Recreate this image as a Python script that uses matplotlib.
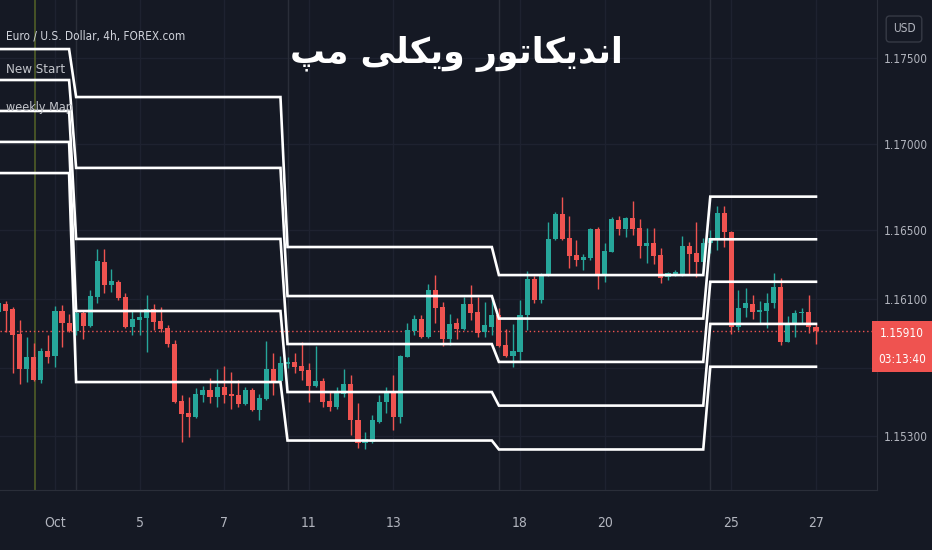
import numpy as np
import matplotlib
matplotlib.use("Agg")
import matplotlib.pyplot as plt

# ---------------- data ----------------
first_index = -2  # 4h candle index; index 0 = first bar of Sep 30
opens = [1.16025, 1.16070, 1.16039, 1.15894, 1.15690, 1.15763, 1.15628, 1.15795, 1.15767, 1.16029,
         1.15961, 1.15915, 1.16019, 1.15942, 1.16112, 1.16316, 1.16180, 1.16199, 1.16109, 1.15934,
         1.15977, 1.15987, 1.16041, 1.15971, 1.15929, 1.15837, 1.15506, 1.15434, 1.15411, 1.15538,
         1.15567, 1.15531, 1.15589, 1.15547, 1.15539, 1.15488, 1.15570, 1.15456, 1.15516, 1.15690,
         1.15624, 1.15721, 1.15734, 1.15709, 1.15686, 1.15593, 1.15624, 1.15508, 1.15473, 1.15547,
         1.15605, 1.15395, 1.15259, 1.15269, 1.15386, 1.15502, 1.15551, 1.15411, 1.15760, 1.15915,
         1.15981, 1.15880, 1.16151, 1.16054, 1.15865, 1.15958, 1.15923, 1.16070, 1.16025, 1.15907,
         1.15938, 1.16006, 1.15831, 1.15770, 1.15792, 1.16003, 1.16213, 1.16091, 1.16238, 1.16446,
         1.16595, 1.16452, 1.16355, 1.16326, 1.16335, 1.16504, 1.16244, 1.16374, 1.16558, 1.16504,
         1.16568, 1.16510, 1.16407, 1.16426, 1.16355, 1.16225, 1.16238, 1.16238, 1.16407, 1.16368,
         1.16316, 1.16422, 1.16455, 1.16597, 1.16490, 1.15936, 1.16045, 1.16070, 1.16023, 1.16031,
         1.16077, 1.16170, 1.15851, 1.15948, 1.16016, 1.16023, 1.15938]
highs = [1.16087, 1.16089, 1.16054, 1.15977, 1.15880, 1.15841, 1.15812, 1.15890, 1.16058, 1.16064,
         1.16012, 1.16045, 1.16035, 1.16151, 1.16388, 1.16388, 1.16272, 1.16209, 1.16132, 1.16035,
         1.16035, 1.16122, 1.16070, 1.16052, 1.15948, 1.15861, 1.15541, 1.15531, 1.15580, 1.15593,
         1.15640, 1.15690, 1.15709, 1.15673, 1.15628, 1.15589, 1.15581, 1.15547, 1.15852, 1.15783,
         1.15770, 1.15763, 1.15783, 1.15851, 1.15729, 1.15826, 1.15640, 1.15560, 1.15589, 1.15690,
         1.15657, 1.15492, 1.15327, 1.15424, 1.15541, 1.15589, 1.15657, 1.15773, 1.15961, 1.16006,
         1.16006, 1.16186, 1.16238, 1.16083, 1.16012, 1.15987, 1.16112, 1.16180, 1.16112, 1.16081,
         1.16097, 1.16045, 1.15924, 1.15954, 1.16093, 1.16259, 1.16233, 1.16248, 1.16544, 1.16606,
         1.16692, 1.16581, 1.16440, 1.16360, 1.16509, 1.16520, 1.16426, 1.16574, 1.16581, 1.16578,
         1.16670, 1.16562, 1.16510, 1.16510, 1.16394, 1.16258, 1.16267, 1.16465, 1.16432, 1.16548,
         1.16452, 1.16500, 1.16642, 1.16642, 1.16497, 1.16151, 1.16161, 1.16122, 1.16089, 1.16132,
         1.16248, 1.16219, 1.16000, 1.16035, 1.16045, 1.16122, 1.15954]
lows = [1.16017, 1.15909, 1.15667, 1.15605, 1.15618, 1.15624, 1.15612, 1.15729, 1.15705, 1.15822,
        1.15909, 1.15890, 1.15865, 1.15938, 1.16074, 1.16132, 1.16141, 1.16093, 1.15929, 1.15890,
        1.15890, 1.15792, 1.15919, 1.15909, 1.15820, 1.15492, 1.15269, 1.15298, 1.15405, 1.15502,
        1.15494, 1.15473, 1.15492, 1.15462, 1.15473, 1.15483, 1.15449, 1.15394, 1.15512, 1.15541,
        1.15618, 1.15696, 1.15667, 1.15628, 1.15502, 1.15589, 1.15473, 1.15449, 1.15458, 1.15531,
        1.15308, 1.15231, 1.15227, 1.15260, 1.15376, 1.15434, 1.15337, 1.15380, 1.15760, 1.15890,
        1.15870, 1.15870, 1.15961, 1.15826, 1.15831, 1.15865, 1.15919, 1.15977, 1.15880, 1.15880,
        1.15890, 1.15822, 1.15763, 1.15705, 1.15744, 1.15916, 1.16074, 1.16074, 1.16233, 1.16442,
        1.16442, 1.16279, 1.16291, 1.16266, 1.16328, 1.16155, 1.16199, 1.16372, 1.16471, 1.16461,
        1.16471, 1.16335, 1.16306, 1.16302, 1.16190, 1.16209, 1.16233, 1.16233, 1.16238, 1.16227,
        1.16248, 1.16366, 1.16384, 1.16401, 1.15895, 1.15919, 1.15996, 1.15981, 1.15958, 1.15929,
        1.16045, 1.15831, 1.15849, 1.15880, 1.15958, 1.15899, 1.15837]
closes = [1.16077, 1.16031, 1.15890, 1.15690, 1.15763, 1.15628, 1.15798, 1.15763, 1.16029, 1.15958,
          1.15915, 1.16016, 1.15942, 1.16116, 1.16320, 1.16180, 1.16204, 1.16103, 1.15934, 1.15981,
          1.15992, 1.16041, 1.15967, 1.15923, 1.15837, 1.15498, 1.15430, 1.15411, 1.15547, 1.15570,
          1.15531, 1.15589, 1.15539, 1.15535, 1.15488, 1.15570, 1.15456, 1.15522, 1.15690, 1.15624,
          1.15729, 1.15734, 1.15705, 1.15682, 1.15593, 1.15624, 1.15498, 1.15473, 1.15560, 1.15605,
          1.15395, 1.15260, 1.15283, 1.15395, 1.15502, 1.15551, 1.15411, 1.15767, 1.15919, 1.15981,
          1.15880, 1.16151, 1.16045, 1.15865, 1.15954, 1.15923, 1.16070, 1.16019, 1.15903, 1.15945,
          1.16006, 1.15826, 1.15767, 1.15797, 1.16006, 1.16213, 1.16093, 1.16238, 1.16446, 1.16595,
          1.16446, 1.16349, 1.16326, 1.16341, 1.16504, 1.16244, 1.16380, 1.16562, 1.16504, 1.16568,
          1.16504, 1.16407, 1.16426, 1.16349, 1.16219, 1.16248, 1.16258, 1.16407, 1.16363, 1.16316,
          1.16424, 1.16455, 1.16597, 1.16488, 1.15936, 1.16045, 1.16074, 1.16025, 1.16035, 1.16077,
          1.16170, 1.15851, 1.15948, 1.16016, 1.16023, 1.15938, 1.15910]

# weekly map levels (5 per week) and the candle index where each week starts
week_start_index = [-2, 9, 39, 69, 99]
week_levels = [
    [1.17552, 1.17372, 1.17192, 1.17012, 1.16831],
    [1.17273, 1.16861, 1.16448, 1.16029, 1.15616],
    [1.16401, 1.16116, 1.15837, 1.15558, 1.15276],
    [1.16238, 1.15985, 1.15733, 1.15479, 1.15224],
    [1.16694, 1.16446, 1.16199, 1.15954, 1.15705],
]
session_marker_index = 3.1

day_tick_index = [6, 18, 30, 42, 54, 72, 84, 102, 114]
day_tick_labels = ["Oct", "5", "7", "11", "13", "18", "20", "25", "27"]
price_ticks = [1.15300, 1.16100, 1.16500, 1.17000, 1.17500]
grid_prices = [1.15300, 1.15700, 1.16100, 1.16500, 1.17000, 1.17500]
last_price = 1.15910
countdown = "03:13:40"
symbol_title = "Euro / U.S. Dollar, 4h, FOREX.com"
indicator_names = ["New Start", "weekly Map"]
currency = "USD"
# Persian title "اندیکاتور ویکلی مپ" in shaped presentation forms, visual order
title_text = ("\uFB57\uFEE3" + " " +
              "\uFEF0\uFEE0\uFEDC\uFEF3\uFEED" + " " +
              "\uFEAD\uFEEE\uFE97\uFE8E\uFEDC\uFEF3\uFEAA\uFEE7\uFE8D")

# ---------------- style ----------------
BG = "#151924"
UP = "#26a69a"
DOWN = "#ef5350"
GRID = "#1e2230"
AXIS_TXT = "#b2b5be"
NARROW = dict(family="DejaVu Sans", stretch="condensed")

W, H = 932, 550
fig = plt.figure(figsize=(W / 100, H / 100), dpi=100, facecolor=BG)
ax = fig.add_axes([0, 60 / H, 877 / W, 490 / H], facecolor=BG)

o = np.array(opens); h = np.array(highs); l = np.array(lows); c = np.array(closes)
x = np.arange(first_index, first_index + len(o))
up = c >= o
cols = np.where(up, UP, DOWN)

# grid
for gp in grid_prices:
    ax.axhline(gp, color=GRID, lw=1, zorder=0)
for d in day_tick_index:
    ax.axvline(d, color=GRID, lw=1, zorder=0)
for w in week_start_index[1:]:
    ax.axvline(w, color="#2a2e39", lw=1, zorder=0)
ax.axvline(session_marker_index, color="#4f5d27", lw=1.2, zorder=1)

# candles
ax.vlines(x, l, h, colors=cols, lw=1, zorder=3)
body_bottom = np.minimum(o, c)
body_h = np.maximum(np.abs(c - o), 0.00004)
ax.bar(x, body_h, bottom=body_bottom, width=0.72, color=cols, lw=0, zorder=4)

# last price dotted line
ax.axhline(last_price, color=DOWN, lw=1, ls=(0, (1, 2)), zorder=2)

# weekly map lines
wk = np.searchsorted(week_start_index, x, side="right") - 1
for k in range(5):
    ys = [week_levels[w][k] for w in wk]
    ax.plot(x, ys, color="white", lw=1.9, zorder=5, solid_joinstyle="miter")

# axes
ax.set_xlim(-1.802, 122.66)
ax.set_ylim(1.1498837, 1.1783721)
ax.yaxis.tick_right()
ax.set_yticks(price_ticks)
ax.set_yticklabels([f"{p:.5f}" for p in price_ticks], **NARROW)
ax.tick_params(axis="y", length=0, pad=5, labelcolor=AXIS_TXT, labelsize=8.5)
ax.set_xticks(day_tick_index)
ax.set_xticklabels(day_tick_labels, **NARROW)
ax.tick_params(axis="x", length=0, pad=19, labelcolor=AXIS_TXT, labelsize=10)
for s in ["top", "left"]:
    ax.spines[s].set_visible(False)
ax.spines["bottom"].set_color("#2a2e39")
ax.spines["right"].set_color("#2a2e39")

# last price label
ax.annotate(f"{last_price:.5f}\n{countdown}", xy=(1.0, last_price),
            xycoords=("axes fraction", "data"), xytext=(25, -15), textcoords="offset pixels",
            ha="center", va="center", color="white", fontsize=8.5, linespacing=2.3,
            annotation_clip=False, **NARROW,
            bbox=dict(boxstyle="square,pad=0.5", fc=DOWN, ec="none"))

# texts
fig.text(904 / W, 1 - 29 / H, currency, ha="center", va="center", color=AXIS_TXT,
         fontsize=8.5, **NARROW,
         bbox=dict(boxstyle="round,pad=0.55,rounding_size=0.3", fc=BG, ec="#363a45", lw=1))
fig.text(6 / W, 1 - 36 / H, symbol_title, ha="left", va="center", color="#d1d4dc",
         fontsize=8.5, **NARROW)
fig.text(6 / W, 1 - 70 / H, indicator_names[0], ha="left", va="center", color="#c2c4ca",
         fontsize=9.5, **NARROW)
fig.text(6 / W, 1 - 107 / H, indicator_names[1], ha="left", va="center", color="#c2c4ca",
         fontsize=9, **NARROW)
fig.text(456 / W, 1 - 54 / H, title_text, ha="center", va="center", color="white",
         fontsize=25, fontweight="bold", family="DejaVu Sans")

fig.savefig("out.png", dpi=100, facecolor=BG)
